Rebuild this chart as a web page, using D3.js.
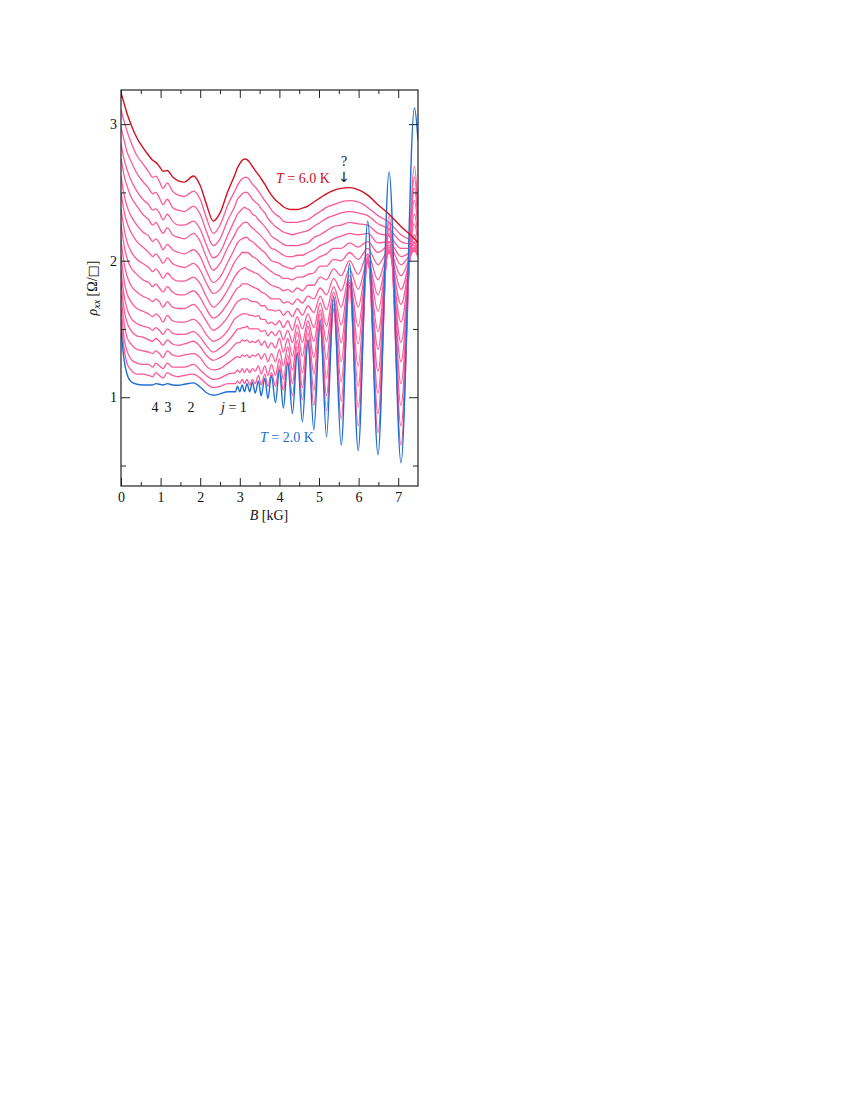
<!DOCTYPE html>
<html><head><meta charset="utf-8">
<script src="https://cdn.jsdelivr.net/npm/d3@7"></script>
<style>
body{margin:0;background:#fff}
text{font-family:"Liberation Serif","Times New Roman",serif;fill:#111}
</style>
</head><body><svg id="c" width="850" height="1100"></svg>
<script>
// magnetic field grid (kG)
const fieldB = [0,0.03,0.08,0.15,0.25,0.4,0.55,0.7,0.8,0.88,0.97,1.06,1.17,1.3,1.45,1.6,1.83,2.0,2.15,2.33,2.5,2.7,
 2.89,2.94,3.0,3.06,3.12,3.18,3.25,3.32,3.39,3.47,3.54,3.63,3.71,3.8,3.9,4.0,4.1,4.21,4.33,4.45,4.58,4.72,4.87,5.03,5.19,5.37,5.56,5.77,5.99,6.23,6.49,6.77,7.07,7.41,7.5];

const xTicks = [0,1,2,3,4,5,6,7];
const xMinor = [0.5,1.5,2.5,3.5,4.5,5.5,6.5];
const yTicks = [1,2,3];
const yMinor = [0.5,1.5,2.5];

// T = 6.0 K
const rho600 = [3.23,3.20,3.15,3.08,3.00,2.90,2.83,2.77,2.735,2.72,2.69,2.655,2.66,2.615,2.585,2.575,2.62,2.55,2.42,2.29,2.35,2.51,
 2.64,2.68,2.71,2.735,2.745,2.74,2.72,2.69,2.66,2.63,2.60,2.56,2.52,2.48,2.445,2.42,2.395,2.38,2.375,2.375,2.385,2.40,2.43,2.46,2.49,2.515,2.53,2.535,2.52,2.48,2.41,2.34,2.25,2.16,2.13];
// T = 2.0 K
const rho200 = [1.50,1.40,1.27,1.17,1.115,1.095,1.09,1.09,1.09,1.10,1.095,1.09,1.10,1.09,1.088,1.095,1.105,1.075,1.035,1.015,1.025,1.04,
 1.04,1.08,1.04,1.09,1.04,1.10,1.04,1.11,1.03,1.12,1.01,1.14,0.99,1.16,0.96,1.20,0.92,1.25,0.88,1.32,0.82,1.42,0.76,1.56,0.71,1.74,0.65,1.98,0.61,2.29,0.58,2.65,0.52,3.12,2.88];

// intermediate temperatures 2.25 ... 5.75 K
const rho225 = [1.57,1.48,1.35,1.25,1.20,1.17,1.17,1.16,1.15,1.18,1.16,1.14,1.18,1.16,1.15,1.16,1.17,1.14,1.10,1.07,1.08,1.10,
 1.10,1.12,1.10,1.13,1.10,1.13,1.09,1.13,1.10,1.16,1.09,1.17,1.08,1.18,1.08,1.23,1.05,1.26,1.01,1.33,0.98,1.39,0.94,1.51,0.90,1.64,0.84,1.81,0.79,2.05,0.74,2.33,0.65,2.69,2.37];
const rho250 = [1.65,1.56,1.43,1.34,1.28,1.25,1.24,1.24,1.22,1.25,1.23,1.21,1.25,1.22,1.22,1.22,1.24,1.20,1.16,1.13,1.14,1.17,
 1.18,1.20,1.18,1.21,1.18,1.21,1.18,1.21,1.19,1.23,1.17,1.23,1.16,1.24,1.16,1.28,1.13,1.31,1.10,1.37,1.07,1.42,1.05,1.53,1.01,1.65,0.97,1.81,0.93,2.03,0.88,2.28,0.79,2.61,2.32];
const rho275 = [1.75,1.66,1.54,1.44,1.39,1.35,1.34,1.33,1.32,1.34,1.32,1.29,1.34,1.31,1.30,1.31,1.32,1.29,1.23,1.20,1.21,1.25,
 1.29,1.30,1.29,1.31,1.30,1.31,1.29,1.31,1.30,1.32,1.28,1.32,1.26,1.32,1.26,1.35,1.23,1.37,1.20,1.42,1.18,1.47,1.17,1.57,1.14,1.68,1.11,1.82,1.08,2.02,1.03,2.24,0.94,2.53,2.28];
const rho300 = [1.84,1.76,1.64,1.55,1.49,1.45,1.44,1.42,1.41,1.43,1.41,1.38,1.42,1.39,1.38,1.39,1.41,1.37,1.31,1.27,1.29,1.33,
 1.39,1.40,1.40,1.42,1.41,1.42,1.40,1.41,1.40,1.42,1.38,1.41,1.36,1.40,1.36,1.43,1.33,1.43,1.30,1.48,1.30,1.52,1.29,1.61,1.28,1.71,1.26,1.84,1.23,2.01,1.19,2.20,1.10,2.44,2.23];
const rho325 = [1.93,1.85,1.74,1.65,1.58,1.54,1.52,1.51,1.49,1.51,1.49,1.46,1.50,1.47,1.46,1.46,1.48,1.44,1.38,1.33,1.36,1.41,
 1.48,1.50,1.50,1.51,1.51,1.52,1.50,1.50,1.50,1.50,1.48,1.49,1.45,1.48,1.45,1.49,1.42,1.49,1.40,1.53,1.40,1.56,1.41,1.64,1.41,1.73,1.40,1.84,1.39,1.99,1.35,2.14,1.26,2.34,2.17];
const rho350 = [2.04,1.96,1.85,1.76,1.70,1.65,1.63,1.61,1.59,1.61,1.59,1.55,1.60,1.56,1.55,1.55,1.57,1.53,1.46,1.41,1.43,1.49,
 1.58,1.59,1.60,1.61,1.61,1.61,1.60,1.60,1.59,1.60,1.57,1.57,1.54,1.55,1.53,1.56,1.51,1.56,1.49,1.59,1.50,1.61,1.51,1.69,1.52,1.77,1.53,1.86,1.52,1.98,1.48,2.10,1.40,2.27,2.12];
const rho375 = [2.15,2.08,1.98,1.89,1.82,1.77,1.74,1.72,1.70,1.72,1.70,1.66,1.70,1.66,1.65,1.65,1.68,1.63,1.56,1.49,1.52,1.59,
 1.68,1.70,1.71,1.72,1.72,1.72,1.71,1.70,1.70,1.69,1.67,1.67,1.64,1.64,1.63,1.64,1.60,1.63,1.59,1.65,1.60,1.67,1.62,1.74,1.64,1.81,1.66,1.89,1.66,1.99,1.63,2.07,1.55,2.19,2.08];
const rho400 = [2.27,2.20,2.11,2.02,1.95,1.90,1.86,1.84,1.81,1.83,1.80,1.77,1.81,1.77,1.75,1.75,1.78,1.73,1.65,1.58,1.61,1.69,
 1.78,1.80,1.81,1.83,1.83,1.83,1.82,1.81,1.80,1.79,1.77,1.76,1.74,1.72,1.72,1.72,1.69,1.70,1.68,1.72,1.69,1.74,1.72,1.80,1.75,1.87,1.78,1.94,1.79,2.00,1.75,2.06,1.68,2.14,2.05];
const rho425 = [2.38,2.32,2.23,2.14,2.07,2.01,1.98,1.95,1.92,1.94,1.91,1.87,1.91,1.87,1.85,1.85,1.88,1.83,1.74,1.66,1.70,1.79,
 1.89,1.91,1.93,1.94,1.95,1.94,1.93,1.92,1.91,1.90,1.88,1.86,1.84,1.82,1.81,1.80,1.78,1.79,1.77,1.80,1.78,1.82,1.82,1.88,1.86,1.94,1.89,2.00,1.90,2.05,1.86,2.07,1.79,2.10,2.03];
const rho450 = [2.50,2.44,2.36,2.28,2.21,2.14,2.10,2.06,2.03,2.05,2.02,1.98,2.02,1.98,1.96,1.95,1.98,1.93,1.84,1.76,1.79,1.89,
 2.00,2.02,2.04,2.06,2.06,2.06,2.05,2.03,2.02,2.00,1.98,1.96,1.94,1.92,1.90,1.89,1.87,1.87,1.86,1.88,1.88,1.90,1.91,1.96,1.96,2.01,2.00,2.06,2.01,2.09,1.97,2.08,1.89,2.08,2.03];
const rho475 = [2.62,2.56,2.48,2.40,2.33,2.26,2.21,2.18,2.14,2.16,2.13,2.08,2.12,2.08,2.06,2.05,2.08,2.03,1.93,1.84,1.88,1.99,
 2.10,2.13,2.15,2.16,2.17,2.17,2.15,2.14,2.12,2.10,2.08,2.06,2.03,2.00,1.99,1.98,1.96,1.95,1.94,1.96,1.96,1.98,2.00,2.03,2.05,2.09,2.09,2.13,2.10,2.14,2.06,2.11,1.97,2.07,2.03];
const rho500 = [2.75,2.70,2.62,2.55,2.47,2.40,2.34,2.30,2.26,2.28,2.24,2.20,2.24,2.19,2.17,2.16,2.20,2.14,2.03,1.93,1.98,2.10,
 2.20,2.23,2.25,2.27,2.28,2.28,2.26,2.24,2.22,2.20,2.18,2.15,2.12,2.09,2.08,2.06,2.04,2.03,2.03,2.04,2.04,2.06,2.08,2.11,2.13,2.16,2.18,2.20,2.19,2.20,2.13,2.14,2.03,2.07,2.04];
const rho525 = [2.86,2.81,2.74,2.67,2.59,2.51,2.45,2.41,2.37,2.38,2.35,2.30,2.34,2.29,2.26,2.26,2.29,2.23,2.12,2.02,2.06,2.19,
 2.31,2.34,2.36,2.38,2.39,2.38,2.37,2.34,2.33,2.30,2.28,2.25,2.22,2.18,2.16,2.14,2.12,2.11,2.11,2.11,2.12,2.13,2.17,2.19,2.22,2.25,2.26,2.28,2.27,2.26,2.20,2.18,2.09,2.09,2.06];
const rho550 = [2.98,2.94,2.88,2.80,2.73,2.64,2.58,2.53,2.49,2.50,2.46,2.41,2.45,2.39,2.37,2.36,2.40,2.34,2.22,2.11,2.16,2.30,
 2.41,2.45,2.47,2.49,2.50,2.50,2.48,2.45,2.43,2.41,2.38,2.35,2.31,2.28,2.25,2.23,2.21,2.20,2.19,2.20,2.21,2.22,2.25,2.28,2.31,2.33,2.35,2.36,2.35,2.33,2.27,2.23,2.14,2.11,2.08];
const rho575 = [3.11,3.07,3.02,2.95,2.87,2.77,2.71,2.65,2.61,2.62,2.58,2.53,2.57,2.51,2.48,2.47,2.51,2.45,2.32,2.20,2.26,2.41,
 2.52,2.55,2.58,2.60,2.61,2.61,2.59,2.56,2.54,2.51,2.48,2.44,2.41,2.37,2.34,2.32,2.29,2.28,2.28,2.28,2.29,2.30,2.33,2.36,2.39,2.41,2.43,2.44,2.43,2.39,2.33,2.28,2.19,2.13,2.10];

const pinkSeries = [rho575,rho550,rho525,rho500,rho475,rho450,rho425,rho400,rho375,rho350,rho325,rho300,rho275,rho250,rho225];

const RED = "#d0101c", PINK = "#ff5898", BLUE = "#1f6fd2";

const svg = d3.select("#c");
const L = 121, R = 418, T = 90, Bt = 486;
const x = d3.scaleLinear().domain([0, 7.5]).range([L, R]);
const y = d3.scaleLinear().domain([0.35, 3.25]).range([Bt, T]);

svg.append("defs").append("clipPath").attr("id","clip")
  .append("rect").attr("x",L).attr("y",T).attr("width",R-L).attr("height",Bt-T);

const line = d3.line()
  .x((d,i) => x(fieldB[i]))
  .y(d => y(d))
  .curve(d3.curveMonotoneX);

const g = svg.append("g").attr("clip-path","url(#clip)");
pinkSeries.forEach(s => g.append("path").attr("d", line(s)).attr("fill","none")
  .attr("stroke",PINK).attr("stroke-width",1.3));
g.append("path").attr("d", line(rho200)).attr("fill","none").attr("stroke",BLUE).attr("stroke-width",1.4);
g.append("path").attr("d", line(rho600)).attr("fill","none").attr("stroke",RED).attr("stroke-width",1.4);

// axes
function style(sel){
  sel.select(".domain").remove();
  sel.selectAll("line").attr("stroke","#222").attr("stroke-width",1);
  sel.selectAll("text").attr("font-size",14).attr("font-family","Liberation Serif, serif").attr("fill","#111");
}
svg.append("g").attr("transform",`translate(0,${Bt})`)
  .call(d3.axisBottom(x).tickValues(xTicks).tickSizeInner(-8).tickSizeOuter(0).tickPadding(6).tickFormat(d3.format("d"))).call(style);
svg.append("g").attr("transform",`translate(0,${Bt})`)
  .call(d3.axisBottom(x).tickValues(xMinor).tickSizeInner(-4).tickSizeOuter(0).tickFormat("")).call(style);
svg.append("g").attr("transform",`translate(0,${T})`)
  .call(d3.axisTop(x).tickValues(xTicks).tickSizeInner(-8).tickSizeOuter(0).tickFormat("")).call(style);
svg.append("g").attr("transform",`translate(0,${T})`)
  .call(d3.axisTop(x).tickValues(xMinor).tickSizeInner(-4).tickSizeOuter(0).tickFormat("")).call(style);
svg.append("g").attr("transform",`translate(${L},0)`)
  .call(d3.axisLeft(y).tickValues(yTicks).tickSizeInner(-9).tickSizeOuter(0).tickPadding(4).tickFormat(d3.format("d"))).call(style);
svg.append("g").attr("transform",`translate(${L},0)`)
  .call(d3.axisLeft(y).tickValues(yMinor).tickSizeInner(-5).tickSizeOuter(0).tickFormat("")).call(style);
svg.append("g").attr("transform",`translate(${R},0)`)
  .call(d3.axisRight(y).tickValues(yTicks).tickSizeInner(-9).tickSizeOuter(0).tickFormat("")).call(style);
svg.append("g").attr("transform",`translate(${R},0)`)
  .call(d3.axisRight(y).tickValues(yMinor).tickSizeInner(-5).tickSizeOuter(0).tickFormat("")).call(style);

svg.append("rect").attr("x",L).attr("y",T).attr("width",R-L).attr("height",Bt-T)
  .attr("fill","none").attr("stroke","#222").attr("stroke-width",1.2);

// axis titles
const xt = svg.append("text").attr("x",269).attr("y",520).attr("text-anchor","middle").attr("font-size",14);
xt.append("tspan").attr("font-style","italic").text("B");
xt.append("tspan").text(" [kG]");

const yt = svg.append("text").attr("transform","translate(97,288) rotate(-90)").attr("text-anchor","middle").attr("font-size",14);
yt.append("tspan").attr("font-style","italic").text("ρ");
yt.append("tspan").attr("font-style","italic").attr("font-size",10).attr("dy",3).text("xx");
yt.append("tspan").attr("dy",-3).text(" [Ω/");
yt.append("tspan").attr("font-family","DejaVu Sans").attr("font-size",13).text("□");
yt.append("tspan").text("]");

// annotations
const t6 = svg.append("text").attr("x",276).attr("y",183).attr("font-size",14).style("fill",RED);
t6.append("tspan").attr("font-style","italic").text("T");
t6.append("tspan").text(" = 6.0 K");
const t2 = svg.append("text").attr("x",260).attr("y",442).attr("font-size",14).style("fill",BLUE);
t2.append("tspan").attr("font-style","italic").text("T");
t2.append("tspan").text(" = 2.0 K");

svg.append("text").attr("x",344).attr("y",166).attr("text-anchor","middle").attr("font-size",14).text("?");
svg.append("text").attr("x",344).attr("y",182).attr("text-anchor","middle").attr("font-size",14)
  .attr("font-family","DejaVu Sans").style("font-family","DejaVu Sans").text("↓");

const jLabels = ["4","3","2"];
const jPos = [155,168,191];
jLabels.forEach((s,i)=> svg.append("text").attr("x",jPos[i]).attr("y",412).attr("text-anchor","middle").attr("font-size",14).text(s));
const j1 = svg.append("text").attr("x",221).attr("y",412).attr("font-size",14);
j1.append("tspan").attr("font-style","italic").text("j");
j1.append("tspan").text(" = 1");
</script></body></html>
